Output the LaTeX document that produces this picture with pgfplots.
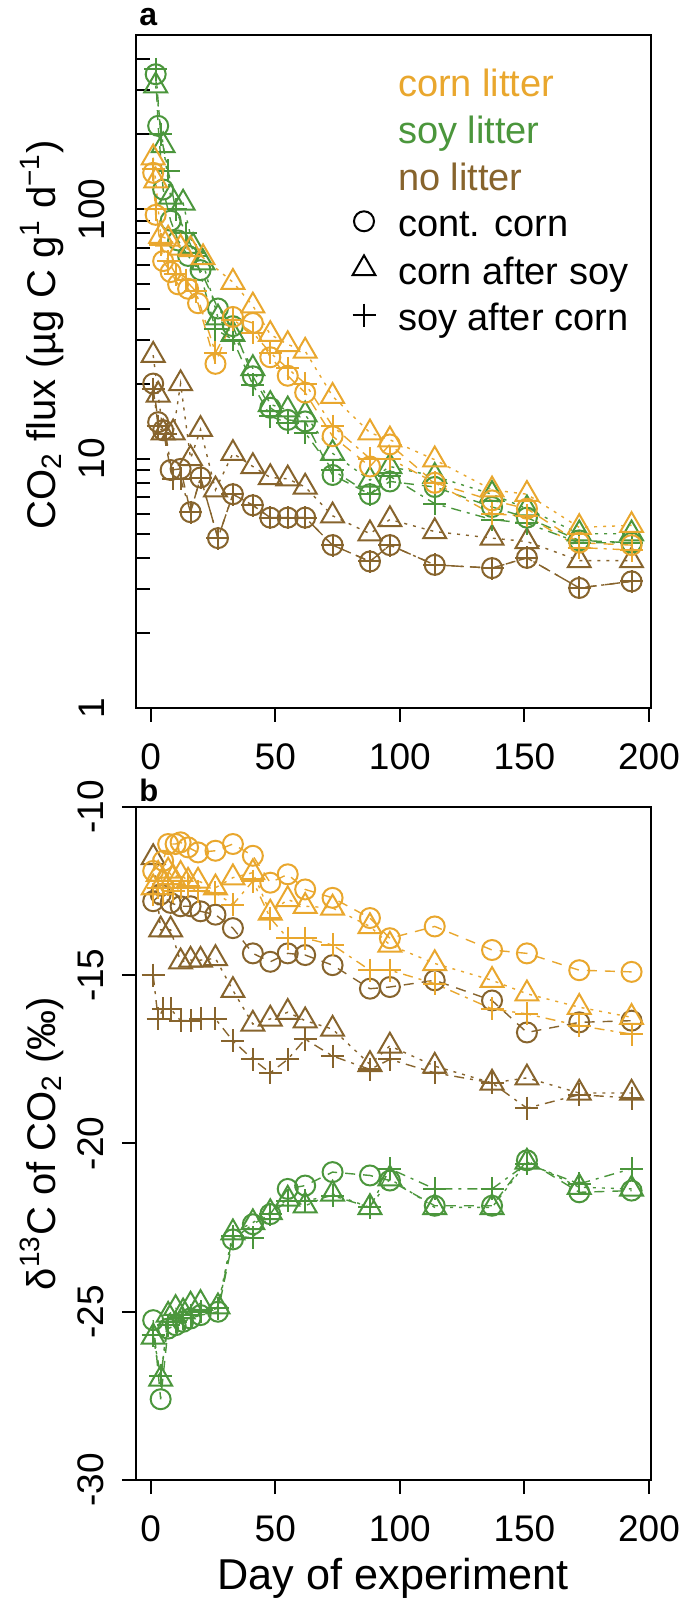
\documentclass[border=0pt]{standalone}
\usepackage{fontspec}
\setmainfont{Liberation Sans}
\usepackage{pgfplots}
\pgfplotsset{compat=1.18}
\definecolor{cornc}{RGB}{233,167,46}
\definecolor{soyc}{RGB}{75,150,60}
\definecolor{noc}{RGB}{135,100,45}
\pgfplotsset{
  sc/.style={mark=o, mark size=5pt, dash pattern=on 5pt off 4pt},
  st/.style={mark=triangle, mark size=6.6pt, dash pattern=on 1.5pt off 3pt},
  sp/.style={mark=+, mark size=5.75pt, dash pattern=on 5pt off 3pt on 1.5pt off 3pt},
  ser/.style={line width=0.7pt, mark options={solid, line width=1pt}, forget plot},
  legmark/.style={legend image code/.code={\draw[##1] plot coordinates {(0pt,2.75pt)};}},
  panel/.style={scale only axis, width=257.25pt, height=336.5pt,
    xmin=-5.9, xmax=200.6, xtick={0,50,100,150,200}, xticklabels={0,50,100,150,200},
    tick pos=left, xtick align=outside, major tick length=7pt, minor tick length=7pt,
    tick style={line width=1pt, black}, axis line style={line width=1pt},
    tick label style={font=\fontsize{18.5}{22}\selectfont},
    xticklabel style={anchor=north, inner sep=0pt}, xticklabel shift=10.5pt,
    yticklabel style={rotate=90, anchor=south, inner sep=0pt}}
}
\begin{document}
\begin{tikzpicture}
\useasboundingbox (0pt,0pt) rectangle (342.5pt,801.5pt);
% ---------------- panel a ----------------
\begin{axis}[panel, at={(68pt,447.5pt)}, anchor=south west,
  ymode=log, ymin=1, ymax=500, ytick={1,10,100}, yticklabels={1,10,100},
  minor ytick={2,3,4,5,6,7,8,9,20,30,40,50,60,70,80,90,200,300,400},
  ytick align=inside, yticklabel shift=15.5pt,
  legend cell align=left,
  legend style={at={(0.4208,0.9495)}, anchor=north west, draw=none, fill=none,
    inner sep=0pt, outer sep=0pt, font=\fontsize{19}{23}\selectfont,
    row sep=5.3pt, column sep=11.25pt,
    nodes={inner sep=0pt, text height=14pt, text depth=4pt}}]
\addlegendimage{empty legend}\addlegendentry{\textcolor{cornc}{corn litter}}
\addlegendimage{empty legend}\addlegendentry{\textcolor{soyc}{soy litter}}
\addlegendimage{empty legend}\addlegendentry{\textcolor{noc}{no litter}}
\addlegendimage{legmark, black, mark=o, mark size=5pt, line width=1pt, solid}\addlegendentry{cont. corn}
\addlegendimage{legmark, black, mark=triangle, mark size=6.6pt, line width=1pt, solid}\addlegendentry{corn after soy}
\addlegendimage{legmark, black, mark=+, mark size=5.75pt, line width=1pt, solid}\addlegendentry{soy after corn}
% no litter
\addplot[ser, noc, sc] coordinates {(1,20) (3,14) (5,13) (8,9.0) (12,9.1) (16,6.1) (20,8.4) (27,4.8) (33,7.2) (41,6.5) (48,5.8) (55,5.8) (62,5.8) (73,4.5) (88,3.87) (96,4.5) (114,3.75) (137,3.64) (151,4.0) (172,3.03) (193,3.22)};
\addplot[ser, noc, st] coordinates {(1,26) (3,18) (5,12.7) (9,12.7) (12,20) (16,10) (20,13.1) (26,7.5) (33,10.5) (41,9.3) (48,8.4) (55,8.3) (62,7.7) (73,5.9) (88,5.0) (96,5.7) (114,5.1) (137,4.8) (151,4.65) (172,3.9) (193,3.9)};
\addplot[ser, noc, sp] coordinates {(1,19) (3,13.5) (6,12.5) (9,8.3) (12,8.3) (16,6.1) (20,8.4) (27,4.8) (33,7.2) (41,6.5) (48,5.8) (55,5.8) (62,5.8) (73,4.5) (88,3.87) (96,4.5) (114,3.75) (137,3.64) (151,4.0) (172,3.03) (193,3.22)};
% soy litter
\addplot[ser, soyc, sc] coordinates {(2,348) (3,216) (5,120) (8,90) (11,75) (15,65) (20,57) (27,40) (33,34) (41,21.4) (48,16) (55,14.3) (62,14.1) (73,8.6) (88,7.2) (96,8.1) (114,7.7) (137,6.4) (151,5.8) (172,4.7) (193,4.6)};
\addplot[ser, soyc, st] coordinates {(2,313) (5,180) (8,112) (13,106) (17,71) (21,61) (27,36.7) (33,31.5) (41,23) (48,16.5) (55,15.7) (62,15) (73,10.5) (88,8.2) (96,9.3) (114,8.5) (137,7.2) (151,6.3) (172,5.0) (193,5.0)};
\addplot[ser, soyc, sp] coordinates {(2,364) (4,200) (7,143) (10,100) (14,80) (18,65) (26,33) (33,30) (41,19.8) (48,14.8) (55,13.9) (62,12.7) (73,9.0) (88,7.2) (96,8.5) (114,6.6) (137,5.7) (151,5.5) (172,4.6) (193,4.6)};
% corn litter
\addplot[ser, cornc, sc] coordinates {(1,140) (2,95) (5,62) (8,56) (11,50) (15,48) (19,42) (26,24) (33,37) (41,35) (48,25.5) (55,21.5) (62,18.4) (73,12.3) (88,9.3) (96,11.4) (114,8.0) (137,6.8) (151,6.3) (172,4.6) (193,4.5)};
\addplot[ser, cornc, st] coordinates {(1,161) (2,130) (4,78) (7,76) (12,70) (16,69) (21,64) (33,51) (41,41) (48,31.5) (55,28.7) (62,27) (73,17.8) (88,12.7) (96,11.9) (114,9.9) (137,7.5) (151,7.2) (172,5.3) (193,5.4)};
\addplot[ser, cornc, sp] coordinates {(1,145) (2,100) (4,72) (7,62) (10,55) (14,52) (18,47) (26,26.6) (33,36) (41,32) (48,26.6) (55,23) (62,20) (73,13.5) (88,10) (96,10) (114,8) (137,6) (151,5.9) (172,4.4) (193,4.3)};
\end{axis}
% ---------------- panel b ----------------
\begin{axis}[panel, at={(68pt,61.5pt)}, anchor=south west,
  ymin=-30, ymax=-10, ytick={-30,-25,-20,-15,-10}, yticklabels={-30,-25,-20,-15,-10},
  ytick align=outside, yticklabel shift=9pt]
% no litter
\addplot[ser, noc, sc] coordinates {(1,-12.8) (4,-12.6) (8,-12.85) (12,-12.95) (16,-12.95) (20,-13.1) (26,-13.2) (33,-13.6) (41,-14.35) (48,-14.6) (55,-14.35) (62,-14.4) (73,-14.7) (88,-15.4) (96,-15.35) (114,-15.15) (137,-15.75) (151,-16.7) (172,-16.4) (193,-16.35)};
\addplot[ser, noc, st] coordinates {(1,-11.5) (4,-13.65) (8,-13.65) (12,-14.6) (16,-14.55) (20,-14.55) (26,-14.5) (33,-15.45) (41,-16.45) (48,-16.3) (55,-16.1) (62,-16.35) (73,-16.6) (88,-17.65) (96,-17.1) (114,-17.7) (137,-18.2) (151,-18.05) (172,-18.5) (193,-18.5)};
\addplot[ser, noc, sp] coordinates {(1,-15.0) (3,-16.3) (5,-16.0) (8,-16.0) (12,-16.35) (16,-16.35) (20,-16.3) (26,-16.3) (33,-16.95) (41,-17.5) (48,-17.9) (55,-17.5) (62,-16.9) (73,-17.4) (88,-17.8) (96,-17.5) (114,-17.9) (137,-18.2) (151,-18.95) (172,-18.55) (193,-18.65)};
% soy litter
\addplot[ser, soyc, sc] coordinates {(1,-25.25) (4,-27.6) (7,-25.5) (10,-25.4) (13,-25.3) (16,-25.2) (20,-25.1) (27,-25.0) (33,-22.85) (41,-22.4) (48,-22.1) (55,-21.35) (62,-21.25) (73,-20.85) (88,-20.95) (96,-21.1) (114,-21.85) (137,-21.85) (151,-20.5) (172,-21.45) (193,-21.4)};
\addplot[ser, soyc, st] coordinates {(1,-25.75) (4,-27.0) (7,-25.1) (10,-24.9) (13,-25.0) (16,-24.8) (20,-24.75) (27,-24.85) (33,-22.65) (41,-22.35) (48,-22.05) (55,-21.65) (62,-21.85) (73,-21.5) (88,-21.9) (96,-21.05) (114,-21.9) (137,-21.9) (151,-20.55) (172,-21.3) (193,-21.35)};
\addplot[ser, soyc, sp] coordinates {(1,-25.7) (4,-26.9) (7,-25.4) (10,-25.3) (13,-25.2) (16,-25.1) (20,-25.0) (27,-24.9) (33,-22.75) (41,-22.8) (48,-22.1) (55,-21.7) (62,-21.7) (73,-21.55) (88,-21.9) (96,-20.75) (114,-21.35) (137,-21.35) (151,-20.6) (172,-21.2) (193,-20.75)};
% corn litter
\addplot[ser, cornc, sc] coordinates {(1,-11.9) (5,-11.6) (7,-11.1) (10,-11.1) (12,-11.05) (15,-11.2) (19,-11.35) (26,-11.3) (33,-11.1) (41,-11.45) (48,-12.25) (55,-12.0) (62,-12.45) (73,-12.7) (88,-13.3) (96,-13.9) (114,-13.55) (137,-14.25) (151,-14.35) (172,-14.85) (193,-14.9)};
\addplot[ser, cornc, st] coordinates {(1,-12.4) (3,-12.0) (5,-12.2) (7,-11.9) (9,-12.1) (12,-12.0) (15,-12.2) (19,-12.2) (26,-12.4) (33,-12.1) (41,-11.95) (48,-13.15) (55,-12.75) (62,-12.95) (73,-13.0) (88,-13.55) (96,-14.1) (114,-14.65) (137,-15.15) (151,-15.55) (172,-15.95) (193,-16.25)};
\addplot[ser, cornc, sp] coordinates {(1,-12.6) (3,-12.4) (5,-12.6) (7,-12.3) (9,-12.5) (12,-12.4) (15,-12.35) (19,-12.5) (26,-12.55) (33,-12.9) (41,-12.2) (48,-13.3) (55,-13.9) (62,-13.9) (73,-14.1) (88,-14.85) (96,-14.85) (114,-15.25) (137,-16.0) (151,-16.15) (172,-16.5) (193,-16.75)};
\end{axis}
% labels
\node[anchor=base west, font=\bfseries\fontsize{16}{19}\selectfont, inner sep=0pt] at (69.5pt,788.5pt) {a};
\node[anchor=base west, font=\bfseries\fontsize{15.5}{19}\selectfont, inner sep=0pt] at (69.5pt,400.5pt) {b};
\node[rotate=90, anchor=base, font=\fontsize{20}{24}\selectfont, inner sep=0pt] at (27.5pt,634pt) {CO\textsubscript{2} flux (µg C g\textsuperscript{1} d\textsuperscript{−1})};
\node[rotate=90, anchor=base, font=\fontsize{20}{24}\selectfont, inner sep=0pt] at (27.5pt,229.75pt) {δ\textsuperscript{13}C of CO\textsubscript{2} (‰)};
\node[anchor=base, font=\fontsize{21.6}{26}\selectfont, inner sep=0pt] at (196.5pt,6.5pt) {Day of experiment};
\end{tikzpicture}
\end{document}
